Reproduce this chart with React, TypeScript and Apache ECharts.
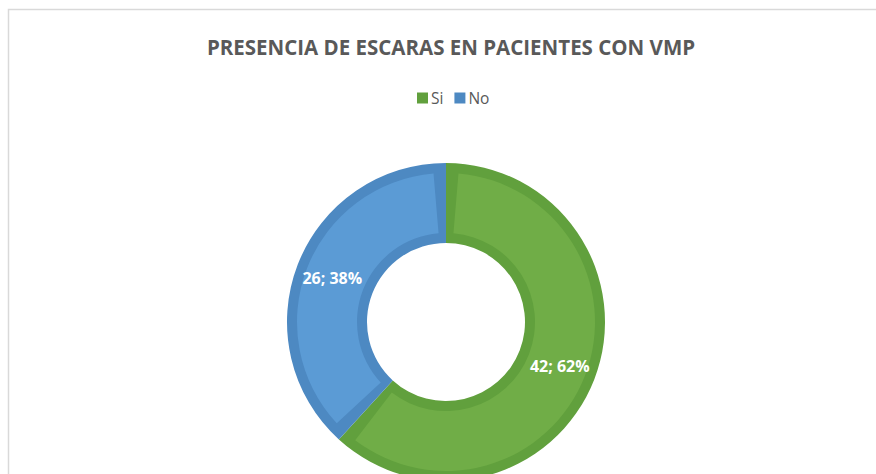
import React, { useEffect, useRef } from "react";
import * as echarts from "echarts";

const titleText = "PRESENCIA DE ESCARAS EN PACIENTES CON VMP";
const categories = ["Si", "No"];
const values = [42, 26];
const fillColors = ["#70AD47", "#5B9BD5"];
const edgeColors = ["#61A03D", "#4D89C2"];

export default function App() {
  const ref = useRef<HTMLDivElement>(null);
  useEffect(() => {
    document.body.style.margin = "0";
    const chart = echarts.init(ref.current!, null, { renderer: "svg" });
    const center = [446, 322];
    chart.setOption({
      animation: false,
      backgroundColor: "#ffffff",
      title: {
        text: titleText,
        left: 446,
        textAlign: "center",
        top: 31,
        textStyle: {
          fontFamily: "Open Sans",
          fontWeight: "bold",
          fontSize: 20.5,
          color: "#595959",
        },
      },
      legend: {
        data: categories,
        left: 412,
        top: 85,
        itemWidth: 11,
        itemHeight: 11,
        itemGap: 11,
        icon: "rect",
        textStyle: {
          fontFamily: "Open Sans",
          fontSize: 15.5,
          color: "#595959",
          padding: [0, 0, 0, -2],
        },
      },
      graphic: [
        {
          type: "rect",
          silent: true,
          shape: { x: 8.5, y: 9.5, width: 1000, height: 600 },
          style: { fill: "none", stroke: "#D9D9D9", lineWidth: 1.5 },
        },
      ],
      series: [
        {
          type: "pie",
          name: "edge",
          silent: true,
          center,
          radius: [79, 159],
          startAngle: 90,
          clockwise: true,
          label: { show: false },
          labelLine: { show: false },
          legendHoverLink: false,
          data: categories.map((c, i) => ({
            name: c,
            value: values[i],
            itemStyle: { color: edgeColors[i] },
          })),
        },
        {
          type: "pie",
          name: "fill",
          center,
          radius: [89, 149],
          startAngle: 90,
          clockwise: true,
          padAngle: 9.6,
          percentPrecision: 0,
          label: {
            show: true,
            position: "inside",
            formatter: "{c}; {d}%",
            color: "#ffffff",
            fontFamily: "Open Sans",
            fontWeight: "bold",
            fontSize: 16,
          },
          labelLine: { show: false },
          data: categories.map((c, i) => ({
            name: c,
            value: values[i],
            itemStyle: { color: fillColors[i] },
          })),
        },
      ],
    });
    return () => chart.dispose();
  }, []);
  return (
    <div
      ref={ref}
      style={{ position: "fixed", left: 0, top: 0, width: 876, height: 474 }}
    />
  );
}
